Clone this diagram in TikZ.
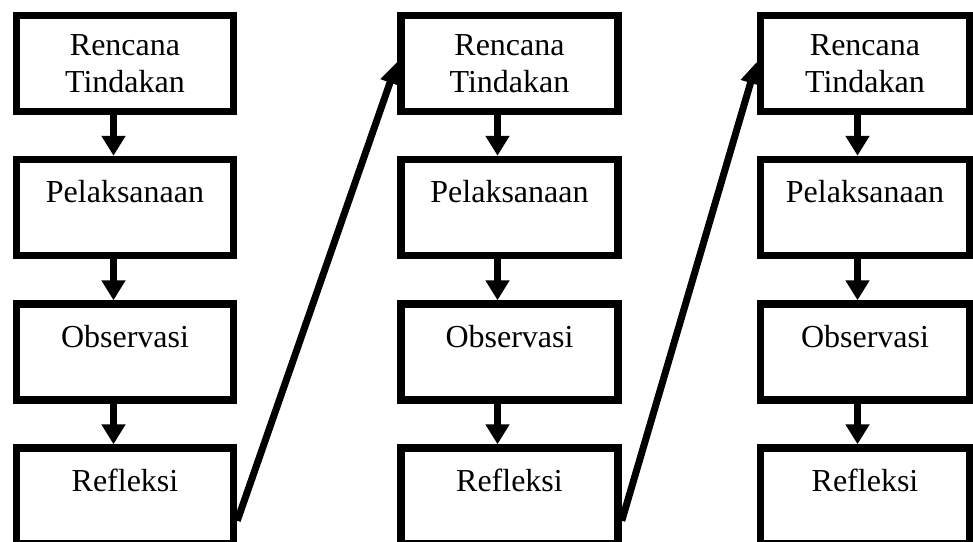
\documentclass[tikz,border=0pt]{standalone}
\usepackage{fontspec}
\setmainfont{Liberation Serif}
\usetikzlibrary{arrows.meta}

\tikzset{
  tahap/.style={draw, line width=7.5pt, minimum width=217pt, minimum height=96pt,
    inner sep=0pt, align=center, font=\fontsize{32}{37}\selectfont},
  tahapsatu/.style={tahap, text height=43pt, text depth=53pt},
  panah/.style={line width=7pt, -{Triangle[width=23pt,length=20pt]}},
  panahsiklus/.style={line width=7pt, -{Triangle[width=19pt,length=22pt]}}
}

\begin{document}
\begin{tikzpicture}[x=1pt, y=-1pt]
            \clip (0,0) rectangle (973,541);
            \useasboundingbox (0,0) rectangle (973,541);

            % siklus I
            \node[tahap] (R1) at (125,63.5) {Rencana\\Tindakan};
            \node[tahapsatu] (P1) at (125,207.5) {Pelaksanaan};
            \node[tahapsatu] (O1) at (125,352) {Observasi};
            \node[tahapsatu] (F1) at (125,496) {Refleksi};

            % siklus II
            \node[tahap] (R2) at (509.5,63.5) {Rencana\\Tindakan};
            \node[tahapsatu] (P2) at (509.5,207.5) {Pelaksanaan};
            \node[tahapsatu] (O2) at (509.5,352) {Observasi};
            \node[tahapsatu] (F2) at (509.5,496) {Refleksi};

            % siklus III
            \node[tahap, minimum width=209pt] (R3) at (865,63.5) {Rencana\\Tindakan};
            \node[tahapsatu, minimum width=209pt] (P3) at (865,207.5) {Pelaksanaan};
            \node[tahapsatu, minimum width=209pt] (O3) at (865,352) {Observasi};
            \node[tahapsatu, minimum width=209pt] (F3) at (865,496) {Refleksi};

            \draw[panah] ([xshift=-11.5pt]R1.south) -- ([xshift=-11.5pt]P1.north);
            \draw[panah] ([xshift=-11.5pt]P1.south) -- ([xshift=-11.5pt]O1.north);
            \draw[panah] ([xshift=-11.5pt]O1.south) -- ([xshift=-11.5pt]F1.north);

            \draw[panah] ([xshift=-12pt]R2.south) -- ([xshift=-12pt]P2.north);
            \draw[panah] ([xshift=-12pt]P2.south) -- ([xshift=-12pt]O2.north);
            \draw[panah] ([xshift=-12pt]O2.south) -- ([xshift=-12pt]F2.north);

            \draw[panah] ([xshift=-7.5pt]R3.south) -- ([xshift=-7.5pt]P3.north);
            \draw[panah] ([xshift=-7.5pt]P3.south) -- ([xshift=-7.5pt]O3.north);
            \draw[panah] ([xshift=-7.5pt]O3.south) -- ([xshift=-7.5pt]F3.north);

            \draw[panahsiklus] ([yshift=27pt]F1.south east) -- ([yshift=-50pt]R2.north west);
            \draw[panahsiklus] ([yshift=27pt]F2.south east) -- ([yshift=-50pt]R3.north west);
\end{tikzpicture}
\end{document}
